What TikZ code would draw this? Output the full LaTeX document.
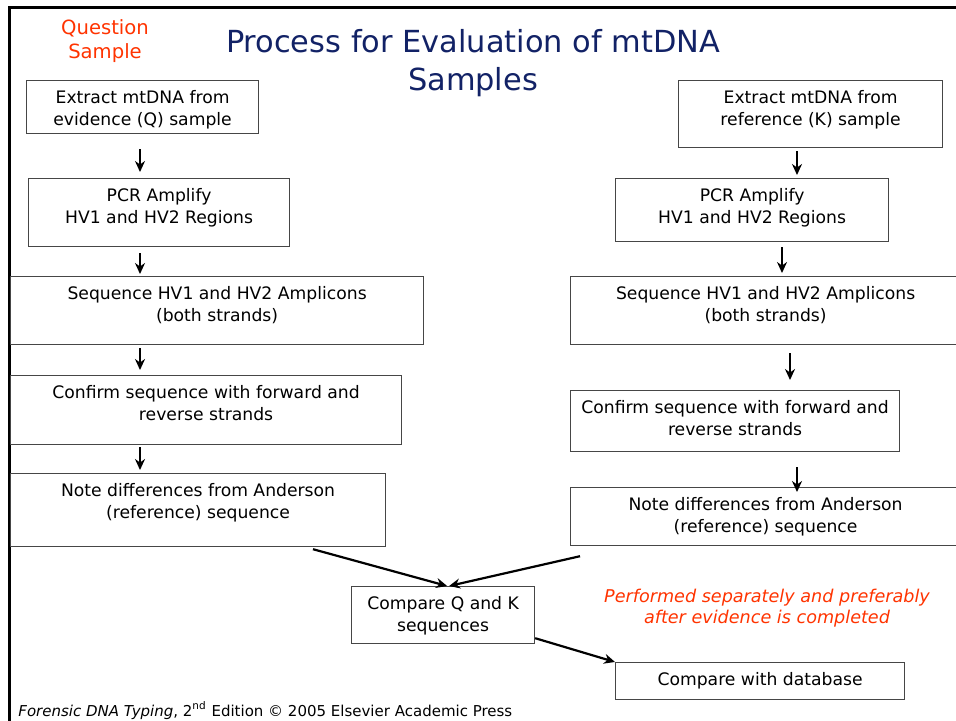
\documentclass[tikz,border=0pt]{standalone}
\usepackage{fontspec}
\setmainfont{DejaVu Sans}
\usetikzlibrary{calc, arrows.meta, positioning}

\definecolor{titleblue}{RGB}{18,34,102}
\definecolor{notered}{RGB}{255,51,0}
\definecolor{boxline}{RGB}{70,70,70}

% box contents: width and height in pixels, text hung from the top
\newcommand{\boxtext}[3]{\parbox[c][\dimexpr#2pt/2\relax][t]{\dimexpr#1pt/2\relax}{\centering\rule{0pt}{11.25pt}#3\par}}

\begin{document}
\begin{tikzpicture}[x=0.5pt, y=-0.5pt,
    stepbox/.style={draw=boxline, line width=0.6pt, inner sep=0pt, anchor=north west,
      font=\fontsize{8.6}{11}\selectfont},
    flow/.style={line width=1.1pt, -{Stealth[length=5.5pt, width=5pt]}}]
    \useasboundingbox (0,0) rectangle (956,721);
    \draw[line width=1.5pt] (9,722) -- (9,8) -- (960,8);

    % headings
    \node[text=notered, align=center, font=\fontsize{9.8}{12}\selectfont] (qs) at (105,41) {Question\\Sample};
    \node[text=titleblue, align=center, font=\fontsize{15.2}{19}\selectfont] (title) at (473,63) {Process for Evaluation of mtDNA\\Samples};

    % evidence (Q) column
    \node[stepbox] (l1) at (26,80) {\boxtext{232}{53}{Extract mtDNA from\\evidence (Q) sample}};
    \node[stepbox] (l2) at (28,178) {\boxtext{261}{68}{PCR Amplify\\HV1 and HV2 Regions}};
    \node[stepbox] (l3) at (10,276) {\boxtext{413}{68}{Sequence HV1 and HV2 Amplicons\\(both strands)}};
    \node[stepbox] (l4) at (10,375) {\boxtext{391}{69}{Confirm sequence with forward and\\reverse strands}};
    \node[stepbox] (l5) at (10,473) {\boxtext{375}{73}{Note differences from Anderson\\(reference) sequence}};

    % reference (K) column
    \node[stepbox] (r1) at (678,80) {\boxtext{264}{67}{Extract mtDNA from\\reference (K) sample}};
    \node[stepbox] (r2) at (615,178) {\boxtext{273}{63}{PCR Amplify\\HV1 and HV2 Regions}};
    \node[stepbox] (r3) at (570,276) {\boxtext{390}{68}{Sequence HV1 and HV2 Amplicons\\(both strands)}};
    \node[stepbox] (r4) at (570,390) {\boxtext{329}{61}{Confirm sequence with forward and\\reverse strands}};
    \node[stepbox] (r5) at (570,487) {\boxtext{390}{58}{Note differences from Anderson\\(reference) sequence}};

    \node[stepbox] (cmp) at (351,586) {\boxtext{183}{57}{Compare Q and K\\sequences}};
    \node[stepbox] (db) at (615,662) {\boxtext{289}{37}{Compare with database}};

    \node[text=notered, align=center, font=\fontsize{8.8}{10.5}\selectfont\itshape] (later) at (767,608) {Performed separately and preferably\\after evidence is completed};

    \node[anchor=base west, inner sep=0pt, font=\fontsize{7.5}{9}\selectfont] (credit) at (18,716) {\textit{Forensic DNA Typing}, 2\textsuperscript{nd} Edition © 2005 Elsevier Academic Press};

    % arrows
    \coordinate (la) at (140,0);
    \draw[flow, shorten <=7.5pt, shorten >=3pt] (l1.south -| la) -- (l2.north -| la);
    \draw[flow, shorten <=3pt, shorten >=1pt] (l2.south -| la) -- (l3.north -| la);
    \draw[flow, shorten <=1.5pt, shorten >=2.5pt] (l3.south -| la) -- (l4.north -| la);
    \draw[flow, shorten <=1pt, shorten >=1.5pt] (l4.south -| la) -- (l5.north -| la);
    \draw[flow, shorten <=1.5pt, shorten >=1.5pt] ([xshift=59.5pt]r1.south west) -- ([xshift=59.5pt]r1.south west |- r2.north);
    \draw[flow, shorten <=2.5pt, shorten >=1.5pt] ([xshift=83.5pt]r2.south west) -- ([xshift=83.5pt]r2.south west |- r3.north);
    \draw[flow, shorten <=4pt, shorten >=5pt] ([xshift=110pt]r3.south west) -- ([xshift=110pt]r3.south west |- r4.north);
    \draw[flow, shorten <=7.5pt, shorten >=-2.5pt] ([xshift=113.5pt]r4.south west) -- ([xshift=113.5pt]r4.south west |- r5.north);
    \draw[flow] ($(l5.south west)+(303,2)$) -- ($(cmp.north)+(4,0)$);
    \draw[flow] ($(r5.south west)+(10,10)$) -- ($(cmp.north)+(6,0)$);
    \draw[flow] ($(cmp.south east)+(0,-6)$) -- (db.north west);
\end{tikzpicture}
\end{document}
